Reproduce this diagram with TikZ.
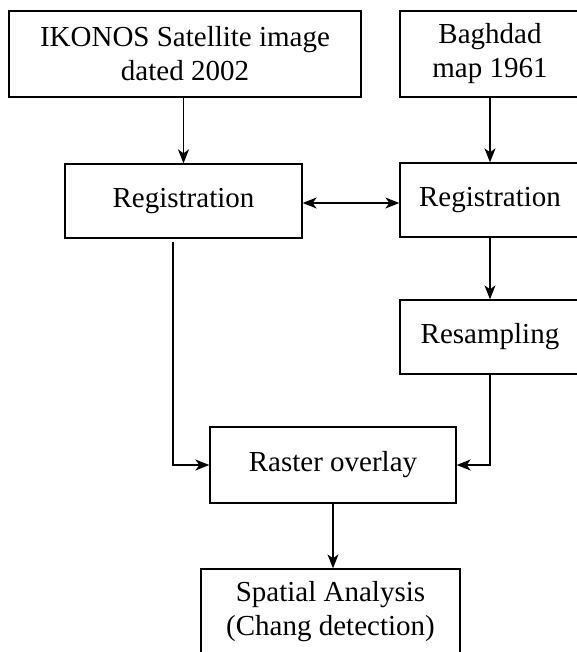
\documentclass[tikz,border=0pt]{standalone}
\usepackage{fontspec}
\setmainfont{Liberation Serif}
\usepackage{tikz}
\usetikzlibrary{positioning,arrows.meta}

\begin{document}
\begin{tikzpicture}[x=1pt,y=1pt,line width=1.3pt,
  >={Stealth[length=14pt,width=11pt,inset=4pt]},
  box/.style={draw,rectangle,inner sep=0pt,align=center,
    font=\fontsize{29}{34}\selectfont},
  onebox/.style={box,minimum height=74pt},
  twobox/.style={box,minimum height=86pt}]
\useasboundingbox (0,0) rectangle (577,-652);
\node[twobox,minimum width=352pt] (ikonos) at (185,-54) {IKONOS Satellite image\\dated 2002};
\node[twobox,minimum width=180pt] (baghdad) at (490,-54) {Baghdad\\map 1961};
\node[onebox,minimum width=237pt] (regL) at (183.5,-201) {Registration};
\node[onebox,minimum width=180pt] (regR) at (490,-200) {Registration};
\node[onebox,minimum width=180pt] (resamp) at (490,-337) {Resampling};
\node[box,minimum width=246pt,minimum height=76pt] (raster) at (333,-465) {Raster overlay};
\node[twobox,minimum width=259pt] (spatial) at (330.5,-612) {Spatial Analysis\\(Chang detection)};
\coordinate (lstart) at (173,-242);
% arrows
\draw[->] (ikonos.south -| regL.north) -- (regL.north);
\draw[->] (baghdad) -- (regR);
\draw[<->] ([yshift=-2pt]regL.east) -- ([yshift=-3pt]regR.west);
\draw[->] (regR) -- (resamp);
\draw[->] (lstart) |- (raster.west);
\draw[->] (resamp.south) |- (raster.east);
\draw[->] (raster.south) -- (raster.south |- spatial.north);
\end{tikzpicture}
\end{document}
